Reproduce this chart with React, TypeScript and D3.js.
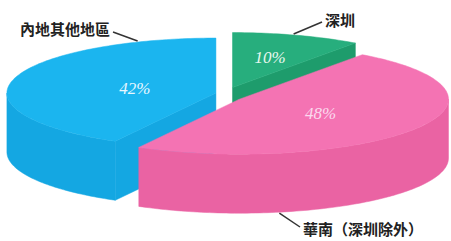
import React from "react";
import * as d3 from "d3";

// data
const categories = ["深圳", "華南（深圳除外）", "內地其他地區"];
const shares = [10, 48, 42];
const percentLabels = ["10%", "48%", "42%"];

// look
const topColors = ["#27ae7d", "#f473b3", "#1bb5ef"];
const sideColors = ["#1e9c6c", "#ea63a3", "#14a7e2"];
const pctColors = ["#e6f7ee", "#fbd9ee", "#e8f7ff"];
const pctRadius = [0.58, 0.46, 0.4];
const calloutDeg = [17, 169, 338];
const calloutBottom = [false, true, false];
const calloutText = [
  { x: 325, y: 21, anchor: "start", lx: 322, ly: 22 },
  { x: 303, y: 230, anchor: "start", lx: 300, ly: 227 },
  { x: 110, y: 30, anchor: "end", lx: 113, ly: 32 },
];

const W = 451;
const H = 241;
const RX = 209;
const RY = 55;
const DEPTH = 59;
const CX0 = 228.5;
const CY0 = 95;
const EXPLODE = 13;
const EXPLODE_Y = 0.6;

type Pt = [number, number];

const pt = (cx: number, cy: number, a: number, r = 1, dz = 0): Pt => [
  cx + RX * r * Math.sin(a),
  cy - RY * r * Math.cos(a) + dz,
];

const arcPts = (cx: number, cy: number, a0: number, a1: number, dz = 0): Pt[] => {
  const n = Math.max(2, Math.ceil(Math.abs(a1 - a0) / 0.02));
  return d3.range(n + 1).map((i) => pt(cx, cy, a0 + ((a1 - a0) * i) / n, 1, dz));
};

const line = d3.line<Pt>().curve(d3.curveLinearClosed);

export default function App() {
  const arcs = d3
    .pie<number>()
    .sort(null)
    .startAngle(0)
    .endAngle(2 * Math.PI)(shares);

  const slices = arcs.map((a, i) => {
    const mid = (a.startAngle + a.endAngle) / 2;
    const cx = CX0 + EXPLODE * Math.sin(mid);
    const cy = CY0 - EXPLODE * EXPLODE_Y * Math.cos(mid);
    return { i, a0: a.startAngle, a1: a.endAngle, mid, cx, cy };
  });

  // back slices first
  const order = [...slices].sort((p, q) => Math.cos(q.mid) - Math.cos(p.mid));

  return (
    <svg
      width={W}
      height={H}
      style={{ position: "absolute", left: 0, top: 0, background: "#fff" }}
    >
      {order.map((s) => {
        const faces: Pt[][] = [];
        const c: Pt = [s.cx, s.cy];
        const cb: Pt = [s.cx, s.cy + DEPTH];
        if (Math.sin(s.a0) < -1e-6) {
          faces.push([c, pt(s.cx, s.cy, s.a0), pt(s.cx, s.cy, s.a0, 1, DEPTH), cb]);
        }
        if (Math.sin(s.a1) > 1e-6) {
          faces.push([c, pt(s.cx, s.cy, s.a1), pt(s.cx, s.cy, s.a1, 1, DEPTH), cb]);
        }
        const b0 = Math.max(s.a0, Math.PI / 2);
        const b1 = Math.min(s.a1, (3 * Math.PI) / 2);
        if (b1 > b0) {
          faces.push([
            ...arcPts(s.cx, s.cy, b0, b1),
            ...arcPts(s.cx, s.cy, b1, b0, DEPTH),
          ]);
        }
        const top: Pt[] = [c, ...arcPts(s.cx, s.cy, s.a0, s.a1)];
        return (
          <g key={s.i}>
            {faces.map((f, k) => (
              <path
                key={k}
                d={line(f) || ""}
                fill={sideColors[s.i]}
                stroke={sideColors[s.i]}
                strokeWidth={0.5}
              />
            ))}
            <path
              d={line(top) || ""}
              fill={topColors[s.i]}
              stroke={topColors[s.i]}
              strokeWidth={0.5}
            />
          </g>
        );
      })}

      {slices.map((s) => {
        const [x, y] = pt(s.cx, s.cy, s.mid, pctRadius[s.i]);
        return (
          <text
            key={"p" + s.i}
            x={x}
            y={y}
            dy="0.35em"
            textAnchor="middle"
            fill={pctColors[s.i]}
            fontFamily="'Liberation Serif', 'DejaVu Serif', serif"
            fontStyle="italic"
            fontSize={17}
          >
            {percentLabels[s.i]}
          </text>
        );
      })}

      {slices.map((s) => {
        const t = calloutText[s.i];
        const a = (calloutDeg[s.i] * Math.PI) / 180;
        const [ax, ay] = pt(s.cx, s.cy, a, 1, calloutBottom[s.i] ? DEPTH + 1 : -1);
        return (
          <g key={"c" + s.i}>
            <line x1={t.lx} y1={t.ly} x2={ax} y2={ay} stroke="#333" strokeWidth={1.5} />
            <text
              x={t.x}
              y={t.y}
              dy="0.36em"
              textAnchor={t.anchor}
              fontFamily="'Noto Sans CJK TC', 'Noto Sans CJK SC', sans-serif"
              fontWeight={700}
              fontSize={15}
              fill="#222"
            >
              {categories[s.i]}
            </text>
          </g>
        );
      })}
    </svg>
  );
}
